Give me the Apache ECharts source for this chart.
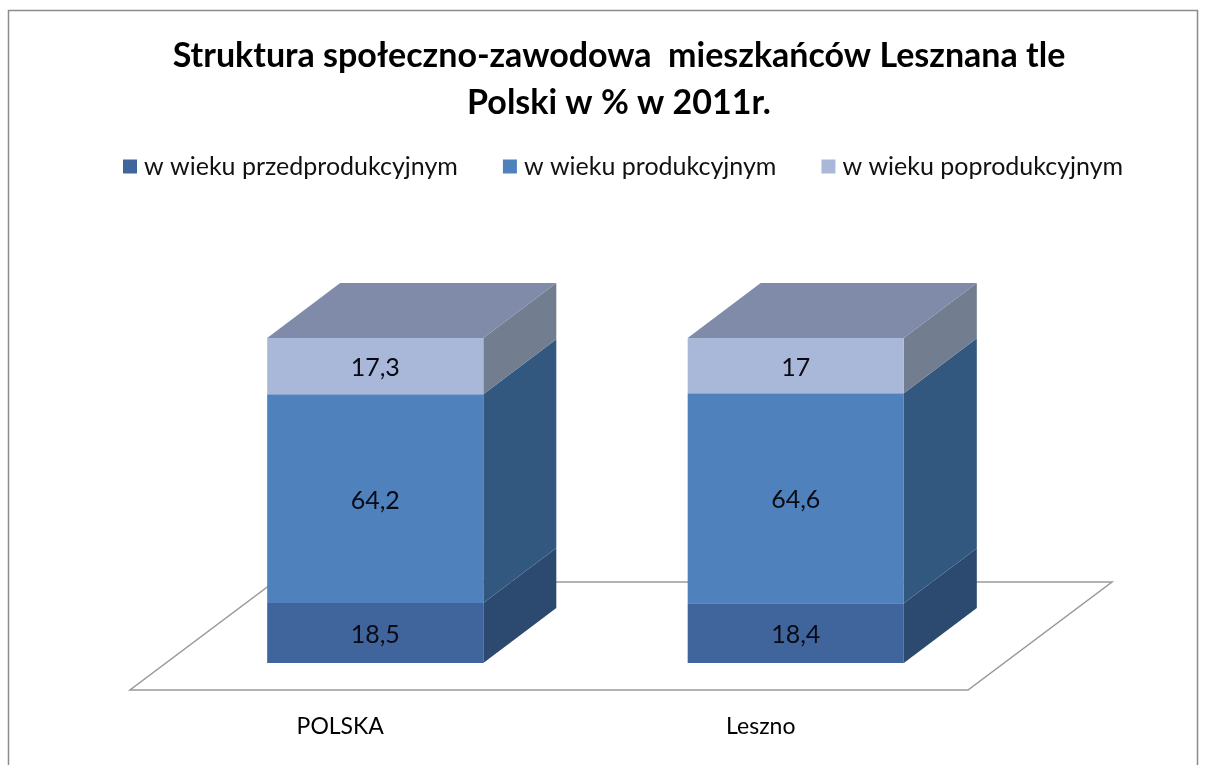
<!DOCTYPE html>
<html><head><meta charset="utf-8">
<style>html,body{margin:0;padding:0;background:#fff}#c{width:1208px;height:765px}</style>
<script src="https://cdn.jsdelivr.net/npm/echarts@6/dist/echarts.min.js"></script>
</head><body><div id="c"></div>
<script>
const categories = ['POLSKA', 'Leszno'];
const seriesNames = ['w wieku przedprodukcyjnym', 'w wieku produkcyjnym', 'w wieku poprodukcyjnym'];
const przedprodukcyjny = [18.5, 18.4];
const produkcyjny = [64.2, 64.6];
const poprodukcyjny = [17.3, 17];
const titleLines = 'Struktura społeczno-zawodowa  mieszkańców Lesznana tle\nPolski w % w 2011r.';

const FONT = 'Lato';
const frontColors = ['#3f659c', '#4f81bd', '#a9b8d8'];
const sideColors = ['#2c4a6f', '#33587f', '#737d90'];
const topColor = '#7f8ba8';
const DEPTH_X = 73, DEPTH_Y = -55;
const fmt = v => String(v).replace('.', ',');

function stacked(values, lower) {
  return values.map((v, i) => [i, lower[i], lower[i] + v, v]);
}
const zeros = categories.map(() => 0);
const d0 = stacked(przedprodukcyjny, zeros);
const d1 = stacked(produkcyjny, d0.map(d => d[2]));
const d2 = stacked(poprodukcyjny, d1.map(d => d[2]));

function barRenderer(idx, isTop) {
  return function (params, api) {
    const c = api.value(0);
    const w = api.size([1, 0])[0] * 0.514;
    const xc = api.coord([c, 0])[0];
    const yb = api.coord([c, api.value(1)])[1];
    const yt = api.coord([c, api.value(2)])[1];
    const xl = xc - w / 2, xr = xc + w / 2;
    const children = [
      { type: 'polygon', shape: { points: [[xr, yb], [xr + DEPTH_X, yb + DEPTH_Y], [xr + DEPTH_X, yt + DEPTH_Y], [xr, yt]] }, style: { fill: sideColors[idx] } },
      { type: 'rect', shape: { x: xl, y: yt, width: w, height: yb - yt }, style: { fill: frontColors[idx] } },
      { type: 'text', x: xc, y: (yb + yt) / 2 + 2, style: { text: fmt(api.value(3)), fill: '#0a0a14', font: '25px ' + FONT, align: 'center', verticalAlign: 'middle' } }
    ];
    if (isTop) {
      children.splice(1, 0, { type: 'polygon', shape: { points: [[xl, yt], [xr, yt], [xr + DEPTH_X, yt + DEPTH_Y], [xl + DEPTH_X, yt + DEPTH_Y]] }, style: { fill: topColor } });
    }
    return { type: 'group', children };
  };
}

function floorRenderer(params, api) {
  const cs = params.coordSys;
  const bottom = cs.y + cs.height;
  const x0 = cs.x - 35, x1 = cs.x + cs.width - 38;
  const yf = bottom + 27, yb = bottom - 81;
  return { type: 'polygon', shape: { points: [[x0, yf], [x1, yf], [x1 + 144, yb], [x0 + 144, yb]] }, style: { fill: '#fff', stroke: '#9a9a9a', lineWidth: 1.5 } };
}

function barSeries(name, data, idx, isTop) {
  return { name, type: 'custom', data, z: 3 + idx, clip: false, itemStyle: { color: frontColors[idx] },
    encode: { x: 0, y: 2 }, renderItem: barRenderer(idx, isTop), silent: true };
}

const chart = echarts.init(document.getElementById('c'), null, { renderer: 'canvas' });
chart.setOption({
  animation: false,
  backgroundColor: '#fff',
  graphic: [{ type: 'rect', z: -1, shape: { x: 8.5, y: 10.5, width: 1189, height: 770 }, style: { fill: 'none', stroke: '#8c8c8c', lineWidth: 1.5 } }],
  title: { text: titleLines, left: 614, textAlign: 'center', top: 28,
    textStyle: { fontFamily: FONT, fontSize: 34, fontWeight: 'bold', color: '#000', lineHeight: 47 } },
  legend: { left: 118, top: 149, itemWidth: 14, itemHeight: 14, itemGap: 45, icon: 'rect', data: seriesNames,
    textStyle: { fontFamily: FONT, fontSize: 25, color: '#111', padding: [0, 0, 0, 2] } },
  grid: { left: 165, right: 202, top: 338, bottom: 102 },
  xAxis: { type: 'category', data: categories, axisLine: { show: false }, axisTick: { show: false },
    axisLabel: { margin: 52, fontFamily: FONT, fontSize: 23, color: '#000',
      formatter: v => '{c|' + v + '}',
      rich: { c: { fontFamily: FONT, fontSize: 23, color: '#000', padding: [0, 70, 0, 0] } } } },
  yAxis: { type: 'value', min: 0, max: 100, show: false, splitLine: { show: false } },
  series: [
    { type: 'custom', data: [[0, 0]], z: 1, clip: false, silent: true, renderItem: floorRenderer, tooltip: { show: false } },
    barSeries(seriesNames[0], d0, 0, false),
    barSeries(seriesNames[1], d1, 1, false),
    barSeries(seriesNames[2], d2, 2, true)
  ]
});
</script></body></html>
